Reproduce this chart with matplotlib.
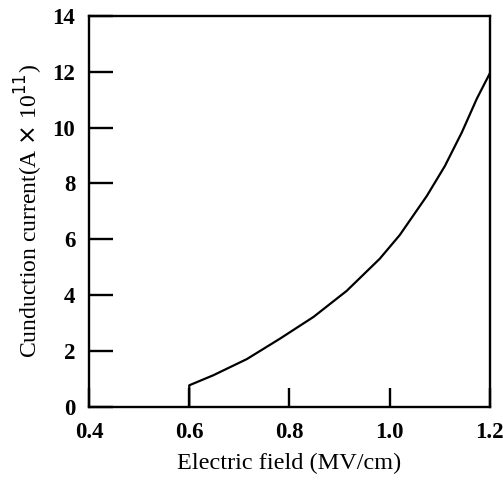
import matplotlib
matplotlib.use("Agg")
import matplotlib.pyplot as plt

# values (vertical step at 0.6, then rising)
field = [0.6, 0.6, 0.648, 0.715, 0.781, 0.848, 0.914, 0.98, 1.02, 1.074, 1.11, 1.144, 1.174, 1.2]
current = [0.0, 0.77, 1.13, 1.71, 2.44, 3.22, 4.15, 5.3, 6.15, 7.55, 8.62, 9.83, 11.04, 11.95]

x_ticks = [0.4, 0.6, 0.8, 1.0, 1.2]
x_labels = ["0.4", "0.6", "0.8", "1.0", "1.2"]
y_ticks = [0, 2, 4, 6, 8, 10, 12, 14]

plt.rcParams['font.family'] = ['Liberation Serif', 'DejaVu Serif']

fig = plt.figure(figsize=(5.03, 4.82), dpi=100)
ax = fig.add_axes([0.177, 0.156, 0.797, 0.811])

ax.plot(field, current, color='black', linewidth=1.6, solid_joinstyle='round')

ax.set_xlim(0.4, 1.2)
ax.set_ylim(0, 14)
ax.set_xticks(x_ticks)
ax.set_xticklabels(x_labels)
ax.set_yticks(y_ticks)

for s in ax.spines.values():
    s.set_linewidth(1.7)

ax.tick_params(axis='x', direction='in', length=14, width=1.7, pad=11, labelsize=16.5)
ax.tick_params(axis='y', direction='in', length=17, width=1.7, pad=10, labelsize=16.5)
for lab in ax.get_xticklabels() + ax.get_yticklabels():
    lab.set_fontweight('bold')

ax.set_xlabel("Electric field (MV/cm)", fontsize=17.5, labelpad=7)
ax.set_ylabel(r"Cunduction current(A $\times$ 10$^{11}$)", fontsize=17, labelpad=5)

fig.savefig("out.png", dpi=100)
